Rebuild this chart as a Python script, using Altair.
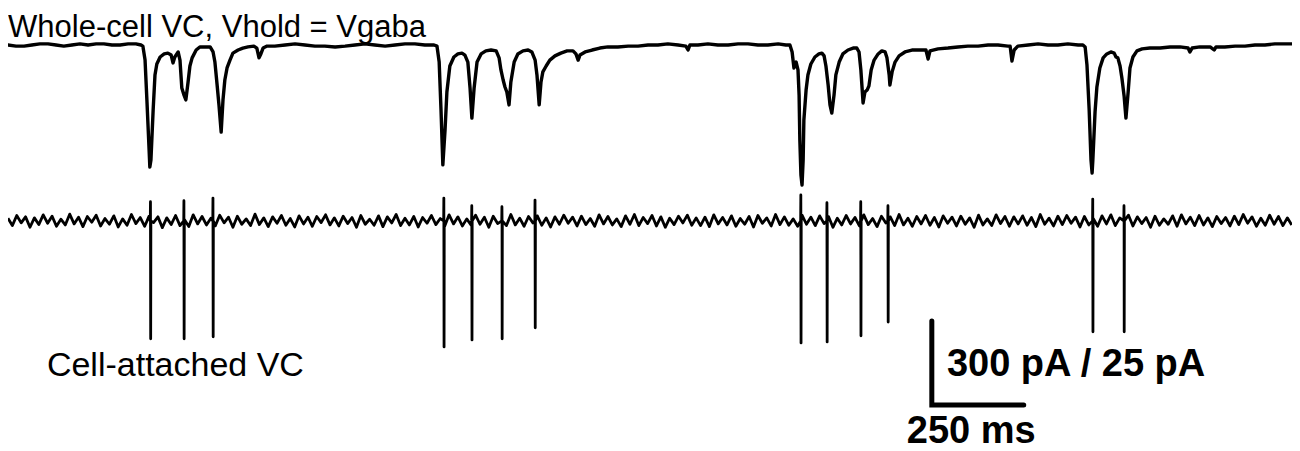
import altair as alt
import pandas as pd

base1 = [(8, 0), (30, -4), (52, -4), (73, 0), (95, 4), (117, 4), (139, 0), (160, -4), (182, 0), (204, 4),
         (226, 0), (248, 4), (269, 4), (291, 0), (313, 0), (335, 4), (356, 4), (370, 0)]
burst1 = [(375, -4), (381, -54), (386, -196), (392, -375), (394, -436), (397, -411), (403, -232), (408, -107),
          (413, -68), (422, -43), (433, -32), (443, -29), (452, -36), (457, -64), (462, -43), (471, -25),
          (476, -54), (481, -154), (487, -179), (492, -196), (498, -132), (503, -75), (509, -46), (520, -18),
          (530, -7), (544, -7), (558, -7), (566, -25), (571, -61), (577, -143), (582, -214), (588, -311),
          (593, -196), (598, -125), (604, -82), (612, -54), (620, -29), (634, -18), (647, -11), (661, -7),
          (677, -4), (685, -11), (691, -46), (696, -32), (702, -11), (713, -4)]
base2 = [(734, -4), (762, 0), (789, 4), (816, 0), (843, -4), (870, -4), (898, -7), (925, -4), (952, 0),
         (979, 4), (1006, 0), (1034, -4), (1061, 0), (1088, 4), (1115, 4), (1142, 0), (1167, 0)]
burst2 = [(1175, -4), (1181, -61), (1186, -232), (1191, -428), (1197, -303), (1202, -168), (1210, -75),
          (1221, -43), (1232, -32), (1243, -29), (1251, -36), (1259, -61), (1265, -154), (1270, -261),
          (1276, -154), (1284, -61), (1295, -32), (1308, -21), (1322, -18), (1336, -21), (1344, -46),
          (1349, -89), (1355, -125), (1360, -150), (1365, -168), (1371, -214), (1376, -132), (1385, -61),
          (1395, -32), (1409, -21), (1423, -18), (1433, -25), (1442, -54), (1447, -107), (1453, -214),
          (1458, -132), (1463, -96), (1472, -75), (1482, -54), (1496, -39), (1512, -29), (1529, -21),
          (1545, -21), (1553, -32), (1559, -54), (1564, -36), (1578, -25), (1597, -18), (1618, -11), (1640, -7)]
base3 = [(1667, -7), (1695, -4), (1722, -4), (1749, 0), (1776, 0), (1803, 4), (1831, 0), (1852, -4),
         (1858, -18), (1863, 0), (1885, 0), (1912, 4), (1939, 0), (1967, 0), (1994, 4), (2021, 4),
         (2048, 0), (2075, 0), (2103, 4), (2124, 0)]
burst3 = [(2135, 0), (2141, -25), (2146, -82), (2152, -61), (2157, -89), (2160, -179), (2162, -339),
          (2165, -464), (2168, -500), (2171, -411), (2173, -268), (2179, -161), (2184, -107), (2192, -68),
          (2203, -43), (2214, -32), (2222, -29), (2228, -39), (2233, -75), (2239, -143), (2244, -214),
          (2249, -243), (2255, -179), (2260, -107), (2269, -61), (2279, -32), (2293, -18), (2307, -11),
          (2317, -11), (2323, -25), (2328, -89), (2334, -207), (2339, -168), (2345, -161), (2350, -146),
          (2356, -89), (2364, -54), (2375, -32), (2385, -21), (2394, -25), (2399, -46), (2405, -107),
          (2407, -143), (2413, -96), (2421, -61), (2432, -39), (2448, -25), (2467, -18), (2489, -18),
          (2505, -18), (2511, -50), (2516, -21), (2538, -14), (2565, -11)]
base4 = [(2592, -7), (2619, -4), (2647, -4), (2674, 0), (2701, 0), (2728, -4), (2734, -4), (2739, -57),
         (2745, -18), (2755, -4), (2783, 0), (2810, 4), (2837, 0), (2864, 0), (2891, 4), (2919, 0), (2932, 0)]
burst4 = [(2938, -7), (2943, -71), (2949, -232), (2954, -411), (2957, -457), (2959, -411), (2965, -239),
          (2970, -150), (2978, -82), (2987, -46), (2997, -32), (3008, -25), (3017, -29), (3022, -43),
          (3027, -46), (3033, -75), (3038, -118), (3044, -182), (3049, -261), (3055, -168), (3060, -82),
          (3068, -43), (3079, -21), (3093, -14), (3114, -11)]
base5 = [(3142, -11), (3169, -7), (3196, -7), (3218, -11), (3223, -25), (3229, -11), (3250, -7), (3278, -7),
         (3289, -18), (3294, -7), (3318, -7), (3346, -4), (3373, -4), (3400, 0), (3427, 0), (3454, 4),
         (3482, 4), (3500, 4)]

# ---- Cell-attached VC trace (pA): baseline noise sampled every 12 ms from t = 8 ms ----
bottom_noise = [
    0.8, -1.4, 1.6, -0.6, 1.2, -1.9, 0.9, -1.1, 1.8, -0.7, 1.4, -1.6,
    0.5, -1.2, 2.0, -0.9, 1.1, -1.7, 1.3, -0.4, 1.7, -1.5, 0.7, -1.0,
    1.5, -1.8, 0.6, -1.3, 1.9, -0.8, 1.0, -1.6, 1.4, -0.5, 1.2, -2.0,
    0.9, -1.1, 1.6, -1.4, 0.4, -1.7, 1.8, -0.9, 1.3, -1.2, 0.8, -1.5,
    1.7, -0.6, 1.1, -1.9, 1.4, -1.0, 0.6, -1.4, 2.0, -1.1, 0.9, -1.7,
    1.2, -0.7, 1.6, -1.3, 0.7, -1.8, 1.5, -0.9, 1.1, -1.6, 1.3, -0.5,
    1.8, -1.2, 0.9, -1.5, 1.4, -0.8, 1.0, -1.9, 1.6, -1.0, 0.5, -1.3,
    1.5, -1.7, 1.2, -0.6, 1.9, -1.4, 0.8, -1.2, 1.3, -1.8, 1.0, -0.7,
    1.6, -1.1, 0.7, -1.6, 1.8, -0.9, 1.2, -1.5, 0.6, -1.3, 1.7, -1.0,
    1.1, -1.9, 1.4, -0.8, 1.0, -1.4, 1.9, -1.2, 0.8, -1.6, 1.3, -0.6,
    1.5, -1.3, 0.9, -1.8, 1.2, -1.0, 1.7, -0.7, 1.1, -1.5, 1.4, -1.1,
    0.7, -1.6, 1.8, -0.9, 1.3, -1.2, 0.6, -1.7, 1.5, -1.0, 1.9, -1.4,
    1.0, -0.8, 1.6, -1.5, 1.2, -1.9, 0.8, -1.1, 1.4, -0.6, 1.7, -1.3,
    0.9, -1.4, 1.1, -1.7, 1.8, -0.9, 1.0, -1.2, 1.5, -1.6, 0.7, -1.0,
    1.3, -1.8, 1.6, -0.7, 0.9, -1.5, 1.9, -1.1, 1.2, -1.3, 0.6, -1.6,
    1.7, -1.0, 1.1, -1.4, 1.5, -0.8, 1.3, -1.9, 0.8, -1.2, 1.6, -0.9,
    1.0, -1.5, 1.8, -1.1, 0.7, -1.7, 1.4, -0.6, 1.2, -1.4, 1.9, -1.2,
    0.8, -1.6, 1.3, -0.9, 1.6, -1.3, 1.0, -1.8, 1.5, -0.7, 1.1, -1.5,
    1.4, -1.0, 0.9, -1.9, 1.7, -1.2, 0.6, -1.4, 1.8, -0.8, 1.3, -1.6,
    1.2, -0.9, 1.5, -1.3, 1.0, -1.7, 1.9, -1.0, 0.8, -1.5, 1.4, -1.1,
    1.6, -0.7, 1.1, -1.8, 1.3, -1.2, 0.7, -1.6, 1.5, -0.9, 1.8, -1.4,
    0.9, -1.1, 1.7, -1.5, 1.2, -0.8, 1.0, -1.9, 1.4, -1.3, 0.6, -1.0,
    1.5, -1.6, 1.8, -0.9, 1.1, -1.4, 1.6, -1.2, 0.9, -1.7, 1.3, -0.8,
    1.0, -1.5, 1.4, -1.1, 1.9, -0.7, 1.2, -1.6, 0.8, -1.3, 1.7, -1.0,
    1.3, -1.4, 0.9, -1.2,
]
SAMPLE_START_MS = 8
SAMPLE_STEP_MS = 12

# action currents (spikes) in the cell-attached trace
spike_t = [396, 487, 566, 1194, 1270, 1352, 1442, 2165, 2236, 2328, 2402, 2959, 3044]
spike_up = [5.7, 6.0, 6.8, 6.8, 4.5, 4.2, 6.2, 7.7, 5.4, 5.7, 4.5, 6.5, 4.5]
spike_down = [-35.1, -35.1, -34.5, -37.5, -35.4, -35.1, -31.8, -36.3, -36.0, -34.2, -30.1, -33.0, -33.0]

# scale bars and labels
SCALE_MS = 250
SCALE_PA_TOP = 300
SCALE_PA_BOTTOM = 25
GAIN = SCALE_PA_TOP / SCALE_PA_BOTTOM
BOTTOM_OFFSET = -628          # display offset of the cell-attached trace
SB_T0, SB_Y0 = 2521, -985
Y_TOP, Y_BOTTOM = 132, -1449.5

xs = alt.Scale(domain=[8.2, 3500.7], nice=False, zero=False)
ys = alt.Scale(domain=[Y_BOTTOM, Y_TOP], nice=False, zero=False)
X = alt.X("t:Q", scale=xs, axis=None)
Y = alt.Y("y:Q", scale=ys, axis=None)

# ---- build tables ----
top_df = pd.DataFrame(base1 + burst1 + base2 + burst2 + base3 + burst3 + base4 + burst4 + base5,
                      columns=["t", "pA"])

bot_rows = [(SAMPLE_START_MS + SAMPLE_STEP_MS * i, v) for i, v in enumerate(bottom_noise)]
for ts, up, dn in zip(spike_t, spike_up, spike_down):
    bot_rows += [(ts - 0.8, 0.0), (ts - 0.3, up), (ts + 0.3, dn), (ts + 0.8, 0.0)]
bot_df = pd.DataFrame(bot_rows, columns=["t", "pA"]).sort_values("t").reset_index(drop=True)

sb_df = pd.DataFrame({
    "t": [SB_T0, SB_T0, SB_T0 + SCALE_MS],
    "y": [SB_Y0, SB_Y0 - SCALE_PA_TOP, SB_Y0 - SCALE_PA_TOP],
    "k": [0, 1, 2],
})

top_line = alt.Chart(top_df).transform_calculate(y="datum.pA").mark_line(
    color="black", strokeWidth=3.4, strokeJoin="round", strokeCap="round"
).encode(x=X, y=Y)

bot_line = alt.Chart(bot_df).transform_calculate(
    y=f"datum.pA * {GAIN} + ({BOTTOM_OFFSET})"
).mark_line(color="black", strokeWidth=2.8, strokeJoin="round", strokeCap="butt").encode(x=X, y=Y)

scale_bar = alt.Chart(sb_df).mark_line(
    color="black", strokeWidth=5, strokeJoin="miter", strokeCap="round"
).encode(x=X, y=Y, order="k:Q")

title_df = pd.DataFrame({"t": [8.5], "y": [29.3], "text": ["Whole-cell VC, Vhold = Vgaba"]})
txt_title = alt.Chart(title_df).mark_text(
    align="left", baseline="alphabetic", font="Liberation Sans", fontSize=31, color="black"
).encode(x=X, y=Y, text="text:N")

cell_df = pd.DataFrame({"t": [114], "y": [-1182], "text": ["Cell-attached VC"]})
txt_cell = alt.Chart(cell_df).mark_text(
    align="left", baseline="alphabetic", font="Liberation Sans", fontSize=34, color="black"
).encode(x=X, y=Y, text="text:N")

amp_df = pd.DataFrame({"t": [2562], "y": [-1182], "text": ["300 pA / 25 pA"]})
txt_amp = alt.Chart(amp_df).mark_text(
    align="left", baseline="alphabetic", font="Liberation Sans", fontSize=38,
    fontWeight="bold", color="black"
).encode(x=X, y=Y, text="text:N")

time_df = pd.DataFrame({"t": [2453], "y": [Y_BOTTOM], "text": ["250 ms"]})
txt_time = alt.Chart(time_df).mark_text(
    align="left", baseline="bottom", font="Liberation Sans", fontSize=38,
    fontWeight="bold", color="black"
).encode(x=X, y=Y, text="text:N")

chart = alt.layer(top_line, bot_line, scale_bar, txt_title, txt_cell, txt_amp, txt_time).properties(
    width=1284, height=443, padding=0,
    autosize=alt.AutoSizeParams(type="none"),
    background="white",
).configure_view(stroke=None)

chart.save("out.html", embed_options={"renderer": "svg", "actions": False})
